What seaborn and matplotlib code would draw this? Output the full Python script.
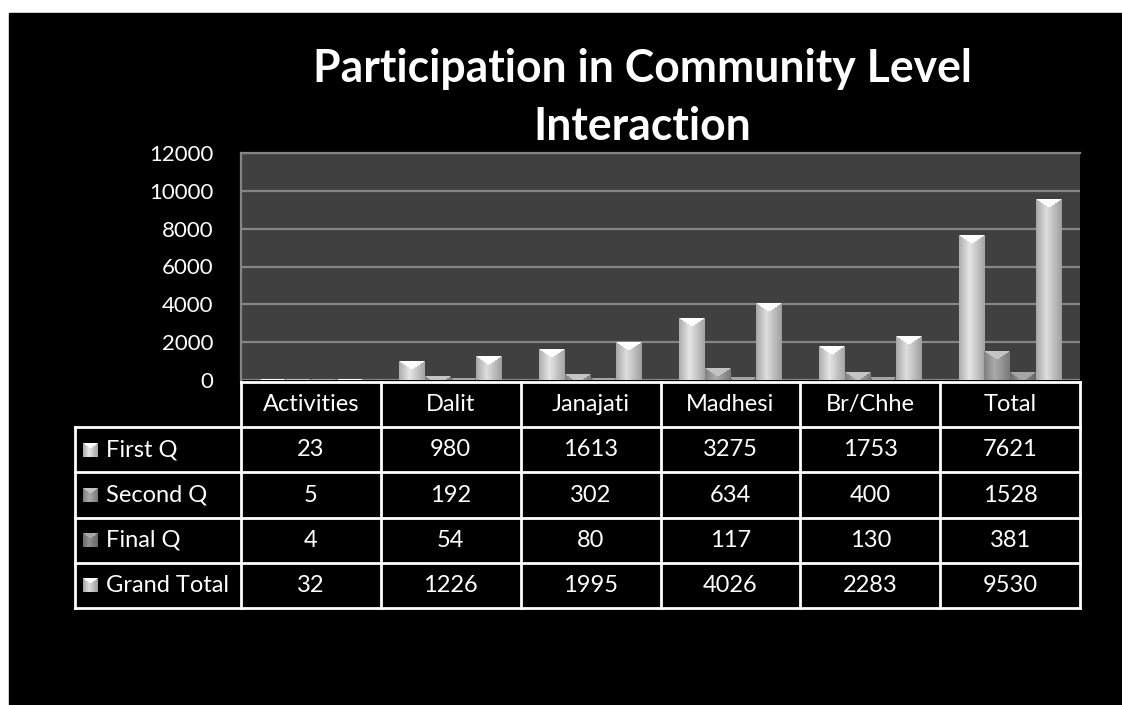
import numpy as np
import pandas as pd
import matplotlib
matplotlib.use("Agg")
import matplotlib.pyplot as plt
from matplotlib.patches import Rectangle
from matplotlib.colors import to_rgb
import seaborn as sns

# ---- data ----
categories = ["Activities", "Dalit", "Janajati", "Madhesi", "Br/Chhe", "Total"]
series = ["First Q", "Second Q", "Final Q", "Grand Total"]
first_q = [23, 980, 1613, 3275, 1753, 7621]
second_q = [5, 192, 302, 634, 400, 1528]
final_q = [4, 54, 80, 117, 130, 381]
grand_total = [32, 1226, 1995, 4026, 2283, 9530]
y_ticks = [0, 2000, 4000, 6000, 8000, 10000, 12000]
title_lines = ["Participation in Community Level", "Interaction"]

values = [first_q, second_q, final_q, grand_total]
series_colors = ["#e6e6e6", "#ababab", "#909090", "#dedede"]

df = pd.DataFrame(
    [(c, s, v) for s, vals in zip(series, values) for c, v in zip(categories, vals)],
    columns=["Category", "Series", "Value"],
)

sns.set_style("white")
plt.rcParams["font.family"] = ["Lato", "DejaVu Sans"]

W, H = 1122, 705
fig = plt.figure(figsize=(W / 100, H / 100), dpi=100, facecolor="white")
# black slide background (white strip at top and left)
fig.patches.append(Rectangle((9 / W, 0), (W - 9) / W, (H - 13) / H,
                             transform=fig.transFigure, color="black", zorder=-10))

ax = fig.add_axes([241 / W, (H - 380) / H, 839 / W, 227 / H])
ax.set_facecolor("#404040")
sns.barplot(data=df, x="Category", y="Value", hue="Series", order=categories,
            hue_order=series, palette=series_colors, width=0.735, gap=0,
            saturation=1, legend=False, ax=ax, zorder=3)
ax.set_xlim(-0.5, len(categories) - 0.5)
ax.set_ylim(0, 12000)
ax.set_yticks(y_ticks)
ax.set_yticklabels([str(t) for t in y_ticks], color="white", fontsize=16)
ax.tick_params(axis="y", length=0, pad=20)
ax.tick_params(axis="x", bottom=False, labelbottom=False)
ax.set_xlabel("")
ax.set_ylabel("")
ax.yaxis.grid(True, color="#858585", lw=1.6, zorder=1)
ax.set_axisbelow(True)
for side in ["right", "bottom"]:
    ax.spines[side].set_visible(False)
for side in ["left", "top"]:
    ax.spines[side].set_color("#858585")
    ax.spines[side].set_linewidth(1.6)


def bar_image(fc, wp, hp, bevel=True):
    fc = np.array(to_rgb(fc))
    cols = np.linspace(0, 1, wp)
    prof = np.interp(cols, [0, 0.4, 1], [0.76, 1.0, 0.72])
    img = np.ones((hp, wp, 3)) * fc[None, None, :] * prof[None, :, None]
    if bevel and wp > 2:
        rows = np.arange(hp)[:, None]
        c = np.arange(wp)[None, :]
        cx = (wp - 1) / 2
        depth = wp * 0.32
        tri = rows < depth * (1 - np.abs(c - cx) / cx)
        img[tri] = np.clip(fc * 1.15, 0, 1)
    return np.clip(img, 0, 1)


# gradient/bevel fill for each bar, clipped to the seaborn bar patch
for patch in list(ax.patches):
    x, w, h = patch.get_x(), patch.get_width(), patch.get_height()
    if h <= 0:
        continue
    fc = patch.get_facecolor()[:3]
    p0 = ax.transData.transform((x, 0))
    p1 = ax.transData.transform((x + w, h))
    wp = max(3, int(round(p1[0] - p0[0])))
    hp = max(2, int(round(p1[1] - p0[1])))
    img = bar_image(fc, wp, hp)
    ax.imshow(img, extent=[x, x + w, 0, h], origin="upper", aspect="auto",
              zorder=patch.get_zorder() + 0.1, interpolation="bilinear")
    patch.set_edgecolor("none")
ax.set_xlim(-0.5, len(categories) - 0.5)
ax.set_ylim(0, 12000)

# ---- data table under the chart ----
px_per_unit = 839 / len(categories)
xmin = -0.5 - (241 - 75) / px_per_unit
xmax = len(categories) - 0.5
nrows = len(series) + 1
tax = fig.add_axes([75 / W, (H - 608) / H, (1080 - 75) / W, (608 - 382) / H])
tax.set_xlim(xmin, xmax)
tax.set_ylim(nrows, 0)
tax.axis("off")
lc = dict(color="white", lw=2, clip_on=False, solid_capstyle="projecting")
tax.plot([-0.5, xmax], [0, 0], **lc)
for r in range(1, nrows + 1):
    tax.plot([xmin, xmax], [r, r], **lc)
for i in range(len(categories) + 1):
    tax.plot([-0.5 + i, -0.5 + i], [0, nrows], **lc)
tax.plot([xmin, xmin], [1, nrows], **lc)

fs_tab = 17
for i, c in enumerate(categories):
    tax.text(i, 0.5, c, color="white", fontsize=fs_tab, ha="center", va="center")
row_h_px = (608 - 382) / nrows
for r, (s, vals, col) in enumerate(zip(series, values, series_colors)):
    yc = r + 1.5
    sw = 15 / px_per_unit
    sh = 14 / row_h_px
    sx = xmin + 8 / px_per_unit
    tax.imshow(bar_image(col, 15, 14, bevel=True), extent=[sx, sx + sw, yc + sh / 2, yc - sh / 2],
               origin="upper", aspect="auto", zorder=3)
    tax.text(xmin + 31 / px_per_unit, yc, s, color="white", fontsize=fs_tab,
             ha="left", va="center")
    for i, v in enumerate(vals):
        tax.text(i, yc, str(v), color="white", fontsize=fs_tab, ha="center", va="center")
tax.set_xlim(xmin, xmax)
tax.set_ylim(nrows, 0)

# ---- title ----
t1 = fig.text(642 / W, (H - 82) / H, title_lines[0], color="white", fontsize=28,
              fontweight="bold", ha="center", va="baseline")
fig.canvas.draw()
fs_title = 28 * 659 / t1.get_window_extent().width
t1.set_fontsize(fs_title)
fig.text(642 / W, (H - 140) / H, title_lines[1], color="white", fontsize=fs_title,
         fontweight="bold", ha="center", va="baseline")

fig.savefig("out.png", dpi=100, facecolor=fig.get_facecolor())
